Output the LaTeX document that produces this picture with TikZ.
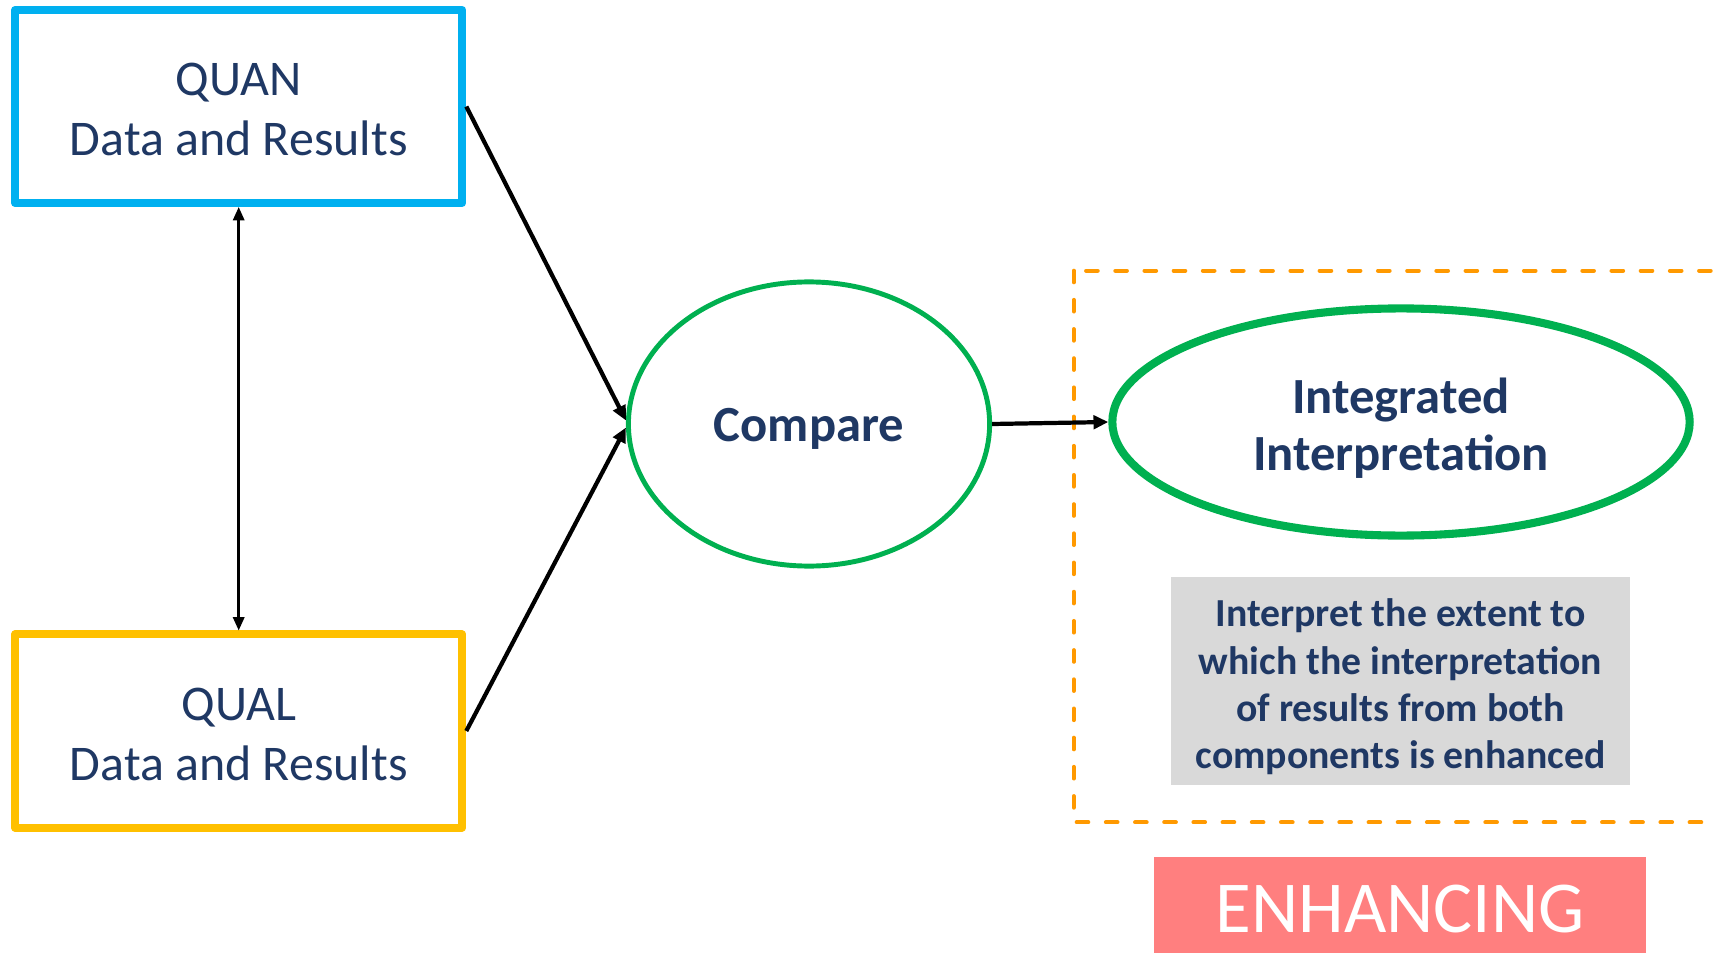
\documentclass[tikz,border=0pt]{standalone}
\usepackage{fontspec}
\setmainfont{Carlito}
\usetikzlibrary{arrows.meta,shapes.geometric}
\definecolor{navy}{HTML}{1F3864}
\definecolor{quancyan}{HTML}{00B0F0}
\definecolor{qualgold}{HTML}{FFC000}
\definecolor{leafgreen}{HTML}{00B050}
\definecolor{frameorange}{HTML}{FF9900}
\definecolor{notegray}{HTML}{D9D9D9}
\definecolor{salmon}{HTML}{FF7F7F}
% invisible strut that lowers a node's text a little
\newcommand{\lift}[1]{\rule{0pt}{#1}}
\begin{document}
\begin{tikzpicture}[x=0.01cm,y=-0.01cm,
  databox/.style={rectangle,line width=2.25pt,line join=round,minimum width=4.47cm,
    minimum height=1.93cm,inner sep=0pt,align=center,text=navy,
    font=\fontsize{14.2}{17}\selectfont},
  oval/.style={ellipse,draw=leafgreen,inner sep=0pt,align=center,text=navy,
    font=\bfseries\fontsize{14.4}{16.2}\selectfont},
  conn/.style={line width=1.2pt,-{Triangle[length=4.2pt,width=3.8pt]}},
  link/.style={line width=0.7pt,{Triangle[length=3.8pt,width=3.2pt]}-{Triangle[length=3.8pt,width=3.2pt]}}]
\useasboundingbox (0,0) rectangle (1713,952);
\clip (0,0) rectangle (1713,952);

% the two data sources
\node[databox,draw=quancyan] (quan) at (238.7,106.5) {\lift{11pt}QUAN\\Data and Results};
\node[databox,draw=qualgold] (qual) at (238.7,731) {\lift{11.4pt}QUAL\\Data and Results};

% comparison step
\node[oval,line width=1.4pt,minimum width=3.61cm,minimum height=2.84cm] (compare) at (809,424)
  {\lift{12pt}Compare};

% dashed frame around the outcome
\draw[frameorange,line width=1.15pt,line cap=round,dash pattern=on 3.3pt off 5pt]
  (1073.7,270.7) rectangle (1760,822.3);

\node[oval,line width=2.3pt,minimum width=5.77cm,minimum height=2.27cm] (integ) at (1401,422)
  {\lift{13.4pt}Integrated\\Interpretation};

\node[fill=notegray,minimum width=4.59cm,minimum height=2.07cm,inner sep=0pt,align=center,
  text=navy,font=\bfseries\fontsize{11.3}{13.4}\selectfont] (note) at (1400.5,681)
  {\lift{11.2pt}Interpret the extent to\\which the interpretation\\of results from both\\components is enhanced};

\node[fill=salmon,minimum width=4.92cm,minimum height=0.96cm,inner sep=0pt,text=white,
  font=\fontsize{20.8}{24}\selectfont] (label) at (1400,905) {\lift{15.5pt}ENHANCING};

% connectors
\draw[link] (quan.south) -- (qual.north);
\draw[conn] (quan.east) -- ([yshift=1pt]compare.west);
\draw[conn] (qual.east) -- ([yshift=-1pt]compare.west);
\draw[conn] (compare.east) -- (integ.west);
\end{tikzpicture}
\end{document}
